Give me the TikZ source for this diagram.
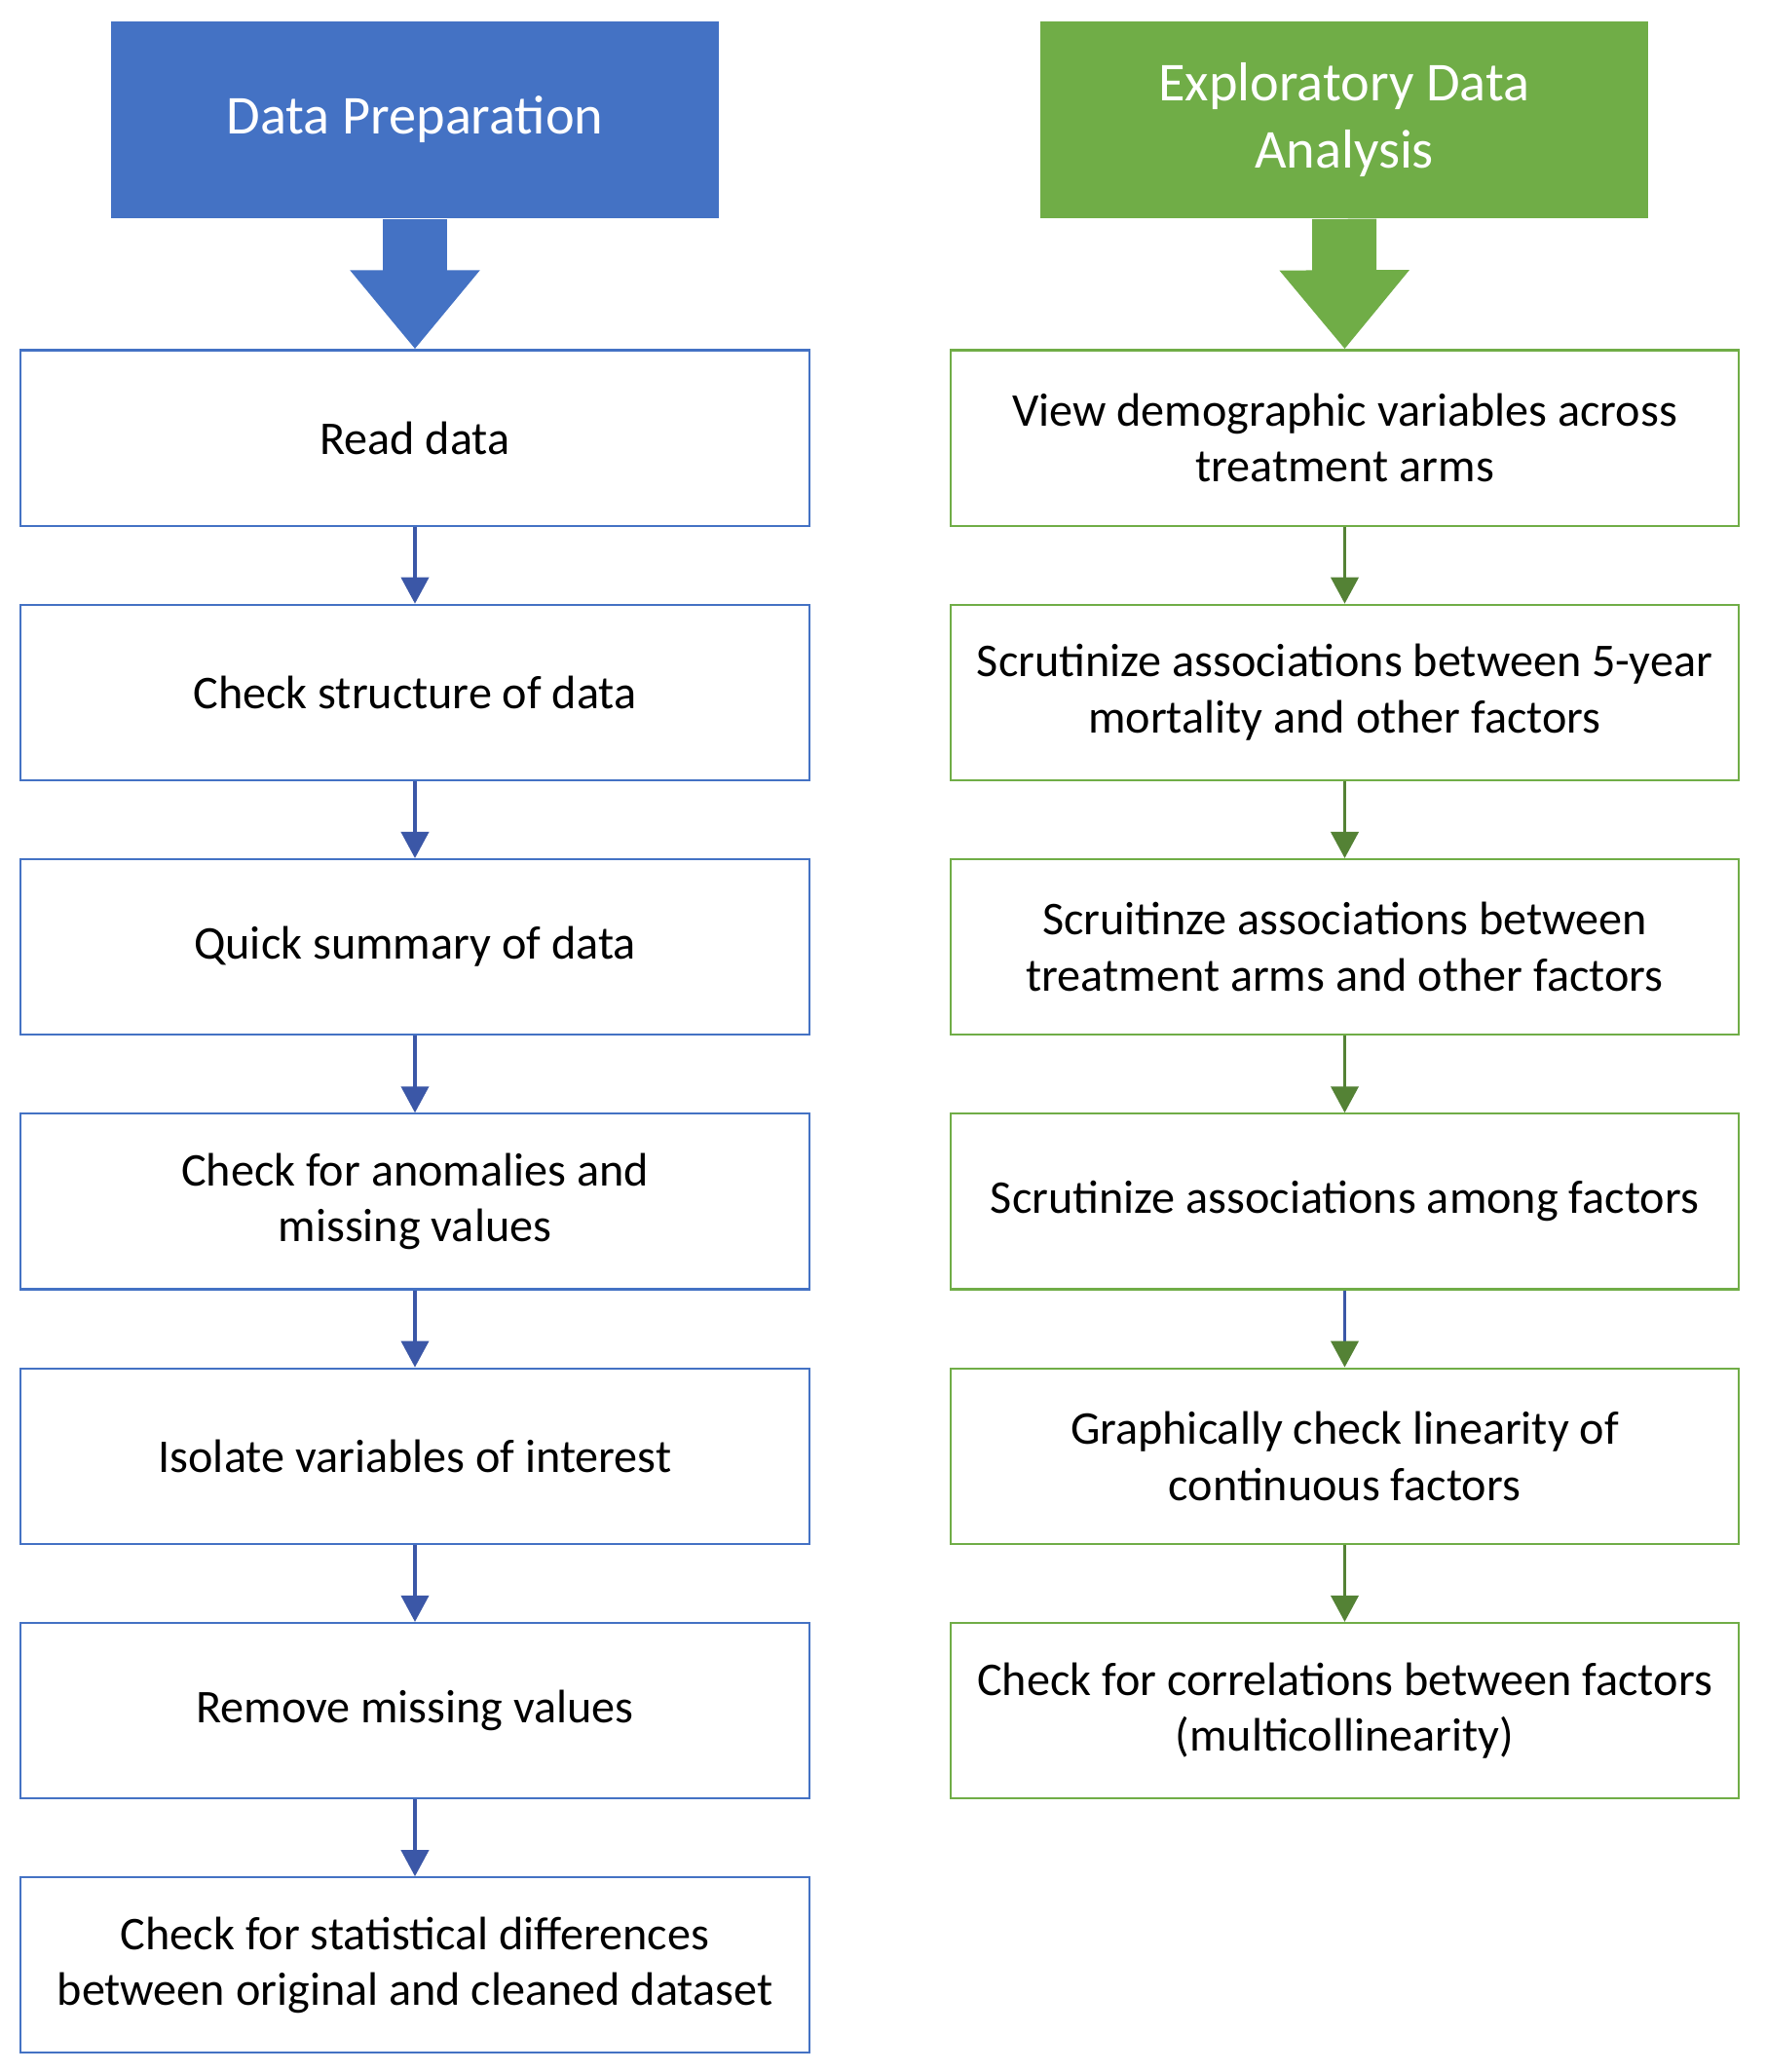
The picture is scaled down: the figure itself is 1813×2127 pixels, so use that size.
\documentclass[tikz,border=0pt]{standalone}
\usepackage{fontspec}
\setmainfont{Carlito}
\usepgflibrary{arrows.meta}
\definecolor{prepblue}{RGB}{68,114,196}
\definecolor{edagreen}{RGB}{112,173,71}
\definecolor{linkblue}{RGB}{59,87,167}
\definecolor{linkgreen}{RGB}{84,130,53}
\def\headbox#1#2#3#4#5{
  % 1: name
  % 2: x
  % 3: y
  % 4: colour
  % 5: title
  \node[fill=#4, minimum width=6.24cm, minimum height=2.02cm, align=center, text=white,
        font=\fontsize{16}{19.5}\selectfont] (#1) at (#2,#3) {#5};
}
\def\stepbox#1#2#3#4#5{
  % 1: name
  % 2: x
  % 3: y
  % 4: colour
  % 5: text
  \node[draw=#4, line width=.6pt, minimum width=8.09cm, minimum height=1.80cm, align=center,
        font=\fontsize{13.7}{16.4}\selectfont] (#1) at (#2,#3) {#5};
}
\def\steplink#1#2#3{
  % 1: from
  % 2: to
  % 3: colour
  \draw[line width=1.1pt, color=#3, arrows={-Triangle[width=2.8mm,length=2.7mm]}] (#1) -- (#2);
}

\begin{document}
\begin{tikzpicture}[x=0.01cm,y=-0.01cm]
    \fill[white] (0,0) rectangle (1813,2127);
    \useasboundingbox (0,0) rectangle (1813,2127);

    % \headbox{name}{x}{y}{colour}{title}
    \headbox{prep}{426}{123}{prepblue}{Data Preparation}
    \headbox{eda}{1380}{123}{edagreen}{Exploratory Data\\ Analysis}

    % \stepbox{name}{x}{y}{colour}{text}
    \stepbox{read}{426}{449.5}{prepblue}{Read data}
    \stepbox{struct}{426}{710.8}{prepblue}{Check structure of data}
    \stepbox{summary}{426}{972.1}{prepblue}{Quick summary of data}
    \stepbox{anomaly}{426}{1233.4}{prepblue}{Check for anomalies and\\ missing values}
    \stepbox{isolate}{426}{1494.7}{prepblue}{Isolate variables of interest}
    \stepbox{remove}{426}{1756}{prepblue}{Remove missing values}
    \stepbox{compare}{426}{2017.3}{prepblue}{Check for statistical differences\\ between original and cleaned dataset}

    \stepbox{demog}{1380.5}{449.5}{edagreen}{View demographic variables across\\ treatment arms}
    \stepbox{mortal}{1380.5}{710.8}{edagreen}{Scrutinize associations between 5-year\\ mortality and other factors}
    \stepbox{arms}{1380.5}{972.1}{edagreen}{Scruitinze associations between\\ treatment arms and other factors}
    \stepbox{among}{1380.5}{1233.4}{edagreen}{Scrutinize associations among factors}
    \stepbox{linear}{1380.5}{1494.7}{edagreen}{Graphically check linearity of\\ continuous factors}
    \stepbox{corr}{1380.5}{1756}{edagreen}{Check for correlations between factors\\ (multicollinearity)}

    % big arrows below the titles
    \draw[prepblue, line width=6.6mm, arrows={-Triangle[width=12.8mm,length=8.1mm]}] (prep.south) -- (read.north);
    \draw[edagreen, line width=6.6mm, arrows={-Triangle[width=12.8mm,length=8.1mm]}] (eda.south) -- (demog.north);

    \steplink{read.south}{struct.north}{linkblue}
    \steplink{struct.south}{summary.north}{linkblue}
    \steplink{summary.south}{anomaly.north}{linkblue}
    \steplink{anomaly.south}{isolate.north}{linkblue}
    \steplink{isolate.south}{remove.north}{linkblue}
    \steplink{remove.south}{compare.north}{linkblue}

    \steplink{demog.south}{mortal.north}{linkgreen}
    \steplink{mortal.south}{arms.north}{linkgreen}
    \steplink{arms.south}{among.north}{linkgreen}
    \draw[line width=1.1pt, color=linkblue, arrows={-Triangle[width=2.8mm,length=2.7mm,color=linkgreen]}] (among.south) -- (linear.north);
    \steplink{linear.south}{corr.north}{linkgreen}
  \end{tikzpicture}
\end{document}
